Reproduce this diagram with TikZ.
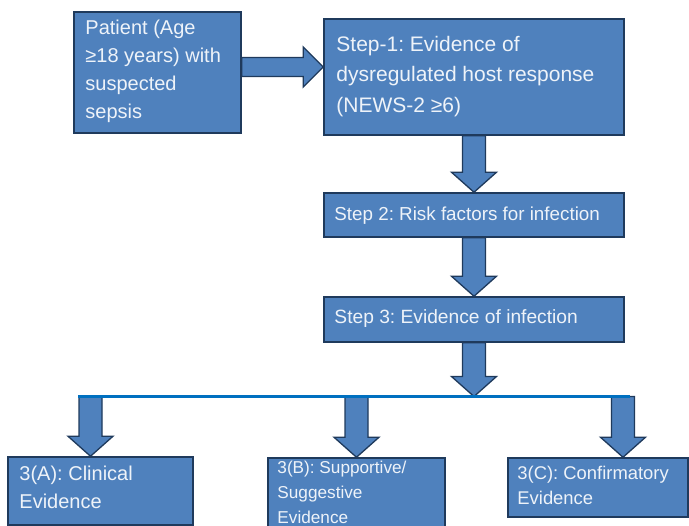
\documentclass[tikz,border=0pt]{standalone}
\usepackage{fontspec}
\setmainfont{Liberation Sans}
\frenchspacing
\usetikzlibrary{calc}
\definecolor{boxblue}{HTML}{4F81BD}
\definecolor{boxedge}{HTML}{1F3A5C}
\definecolor{boxtext}{HTML}{EEF3F9}
\definecolor{busblue}{HTML}{0070C0}
\tikzstyle{step box}=[draw=boxedge, fill=boxblue, line width=1.5pt, inner sep=0pt]
\tikzstyle{step text}=[text=boxtext, anchor=base west, align=left, inner sep=0pt,
  execute at begin node=\frenchspacing]
\tikzstyle{block arrow}=[draw=boxedge, fill=boxblue, line width=1.3pt, line join=miter]
\tikzstyle{bus}=[busblue, line width=3.5pt]
\newcommand{\blockdown}[2]{%
  \draw[block arrow] let \p1=(#1), \p2=(#2) in
    (\x1-11.5pt,\y1) -- (\x1+11.5pt,\y1) -- (\x1+11.5pt,\y2+20pt)
    -- (\x1+22.5pt,\y2+20pt) -- (\x1,\y2) -- (\x1-22.5pt,\y2+20pt)
    -- (\x1-11.5pt,\y2+20pt) -- cycle;}
\newcommand{\blockright}[2]{%
  \draw[block arrow] let \p1=(#1), \p2=(#2) in
    (\x1,\y1+9.5pt) -- (\x2-20pt,\y1+9.5pt) -- (\x2-20pt,\y1+20pt)
    -- (\x2,\y1) -- (\x2-20pt,\y1-20pt) -- (\x2-20pt,\y1-9.5pt)
    -- (\x1,\y1-9.5pt) -- cycle;}

\begin{document}
\begin{tikzpicture}[x=1pt, y=-1pt]
  \useasboundingbox (0,0) rectangle (689,526);
  \clip (0,0) rectangle (689,526);
  % boxes
  \node[step box, minimum width=167, minimum height=121] (pat) at (157.5,72.5) {};
  \node[step box, minimum width=300, minimum height=116] (s1) at (474,77) {};
  \node[step box, minimum width=300, minimum height=44] (s2) at (474,215) {};
  \node[step box, minimum width=300, minimum height=45] (s3) at (474,319.5) {};
  \node[step box, minimum width=185, minimum height=68] (a) at (100.5,491) {};
  \node[step box, minimum width=177, minimum height=87] (b) at (356.5,501.5) {};
  \node[step box, minimum width=180, minimum height=59] (c) at (598,487.5) {};
  % texts (base = last line)
  \node[step text, font=\fontsize{20}{28}\selectfont] (pat-t)
    at ([shift={(12,107)}]pat.north west) {Patient (Age\\≥18 years) with\\suspected\\sepsis};
  \node[step text, font=\fontsize{21}{30.5}\selectfont] (s1-t)
    at ([shift={(13,94)}]s1.north west) {Step-1: Evidence of\\dysregulated host response\\(NEWS-2 ≥6)};
  \node[step text, font=\fontsize{18.8}{24}\selectfont] (s2-t)
    at ([shift={(11,28)}]s2.north west) {Step 2: Risk factors for infection};
  \node[step text, font=\fontsize{19.2}{24}\selectfont] (s3-t)
    at ([shift={(11,27)}]s3.north west) {Step 3: Evidence of infection};
  \node[step text, font=\fontsize{20}{28}\selectfont] (a-t)
    at ([shift={(12,52)}]a.north west) {3(A): Clinical\\Evidence};
  \node[step text, font=\fontsize{17.2}{25}\selectfont] (b-t)
    at ([shift={(10,66)}]b.north west) {3(B): Supportive/\\Suggestive\\Evidence};
  \node[step text, font=\fontsize{18.4}{25}\selectfont] (c-t)
    at ([shift={(10,47)}]c.north west) {3(C): Confirmatory\\Evidence};
  % arrows
  \coordinate (pat-out) at ([yshift=5.5pt]pat.east);
  \blockright{pat-out}{s1.west}
  \blockdown{s1.south}{s2.north}
  \blockdown{s2.south}{s3.north}
  \coordinate (bus-l) at (78,396.5);
  \coordinate (bus-r) at (630,396.5);
  \coordinate (bus-a) at (90.5,396.5);
  \coordinate (bus-b) at (356.5,396.5);
  \coordinate (bus-c) at (623,396.5);
  \blockdown{s3.south}{s3.south |- bus-l}
  \blockdown{bus-a}{bus-a |- a.north}
  \blockdown{bus-b}{bus-b |- b.north}
  \blockdown{bus-c}{bus-c |- c.north}
  \draw[bus] (bus-l) -- (bus-r);
\end{tikzpicture}
\end{document}
